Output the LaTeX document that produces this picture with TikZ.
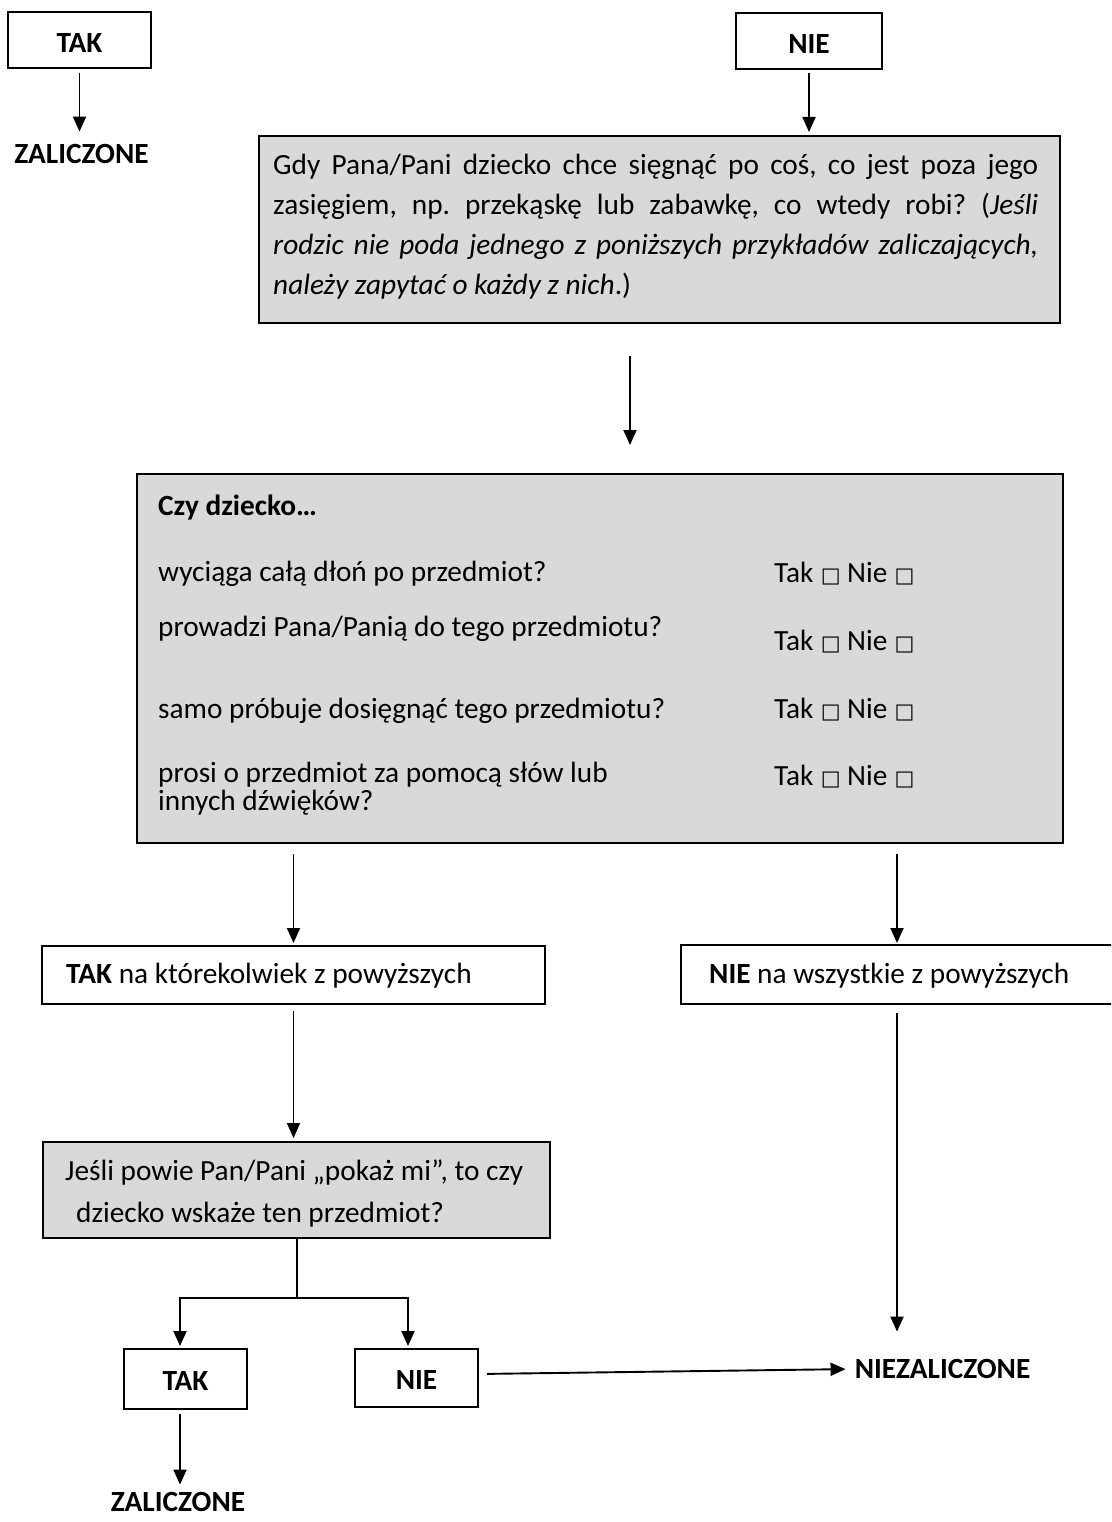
\documentclass[tikz,border=0pt]{standalone}
\usepackage{fontspec}
\setmainfont{Carlito}
\newfontfamily\dejavu{DejaVu Sans}
\usetikzlibrary{arrows.meta,calc}
\definecolor{boxgray}{HTML}{D9D9D9}
\frenchspacing
\newcommand{\sqbox}{{\dejavu\fontsize{21}{21}\selectfont □}}
\newcommand{\takNie}{Tak\hspace{0.25em}\sqbox\hspace{0.22em}Nie\hspace{0.25em}\sqbox}
\begin{document}
\begin{tikzpicture}[x=1pt,y=-1pt,
  every node/.style={font=\fontsize{29.3}{40}\selectfont},
  wbox/.style={draw=black,line width=1.6pt,fill=white,inner sep=0pt,outer sep=0pt},
  gbox/.style={wbox,fill=boxgray},
  sbox/.style={wbox,font=\fontsize{29.3}{40}\selectfont\bfseries,text height=22pt,text depth=0pt},
  lbl/.style={inner sep=0pt,font=\fontsize{29.3}{40}\selectfont\bfseries},
  txt/.style={inner sep=0pt,anchor=base west},
  arr/.style={line width=1.9pt,-{Triangle[width=13pt,length=15pt]}},
  ln/.style={line width=1.4pt}]
\clip (0,0) rectangle (1111,1522);
\fill[white] (0,0) rectangle (1111,1522);

% top row
\node[sbox,text height=25pt,minimum width=143pt,minimum height=56pt] (tak1) at (79.5,40) {TAK};
\node[sbox,text height=25pt,minimum width=146pt,minimum height=56pt] (nie1) at (809,41) {NIE};
\node[lbl] (zal1) at (81.5,154) {ZALICZONE};

% first question
\node[gbox,minimum width=801pt,minimum height=187pt] (b1) at (659.5,229.5) {};
\node[txt] (b1t) at (273,175) {\parbox[t]{765pt}{\hyphenpenalty=10000\exhyphenpenalty=10000\tolerance=10000
Gdy Pana/Pani dziecko chce sięgnąć po coś, co jest poza jego\linebreak
zasięgiem, np. przekąskę lub zabawkę, co wtedy robi? (\textit{Jeśli}\linebreak
\textit{rodzic nie poda jednego z poniższych przykładów zaliczających,}\linebreak
\textit{należy zapytać o każdy z nich}.)}};

% checklist
\node[gbox,minimum width=926pt,minimum height=369pt] (b2) at (600,658.5) {};
\node[txt] (r0) at (158,515) {\textbf{Czy dziecko…}};
\node[txt] (r1) at (158,581) {wyciąga całą dłoń po przedmiot?};
\node[txt] (r2) at (158,636) {prowadzi Pana/Panią do tego przedmiotu?};
\node[txt] (r3) at (158,718) {samo próbuje dosięgnąć tego przedmiotu?};
\node[txt] (r4) at (158,782) {\parbox[t]{560pt}{\fontsize{29.3}{28}\selectfont prosi o przedmiot za pomocą słów lub\\innych dźwięków?}};
\node[txt] (t1) at (774,582) {\takNie};
\node[txt] (t2) at (774,650) {\takNie};
\node[txt] (t3) at (774,718) {\takNie};
\node[txt] (t4) at (774,785) {\takNie};

% answers
\node[wbox,minimum width=503pt,minimum height=58pt] (takna) at (293.5,975) {};
\node[txt] (taknat) at (66,983) {\textbf{TAK} na którekolwiek z powyższych};
\node[wbox,minimum width=432pt,minimum height=59pt] (niena) at (897,974.5) {};
\node[txt] (nienat) at (709,983) {\textbf{NIE} na wszystkie z powyższych};

% second question
\node[gbox,minimum width=507pt,minimum height=96pt] (b3) at (296.5,1190) {};
\node[txt] (b3t) at (65,1180) {\parbox[t]{480pt}{\fontsize{29.3}{42}\selectfont Jeśli powie Pan/Pani „pokaż mi”, to czy\\\hspace*{11pt}dziecko wskaże ten przedmiot?}};

% bottom row
\node[sbox,minimum width=123pt,minimum height=60pt] (tak2) at (185.5,1379) {TAK};
\node[sbox,minimum width=123pt,minimum height=58pt] (nie2) at (416.5,1378) {NIE};
\node[lbl] (zal2) at (178,1502) {ZALICZONE};
\node[lbl] (niezal) at (942.5,1369) {NIEZALICZONE};
\coordinate (split) at (297,1298);

% connectors
\draw[arr,shorten <=5pt,shorten >=12.5pt] (tak1.south) -- (tak1.south |- zal1.north);
\draw[arr,shorten <=4pt,shorten >=4pt] (nie1.south) -- (nie1.south |- b1.north);
\draw[arr,shorten <=33pt,shorten >=29pt] ([xshift=-29.5pt]b1.south) -- ([xshift=-29.5pt]b1.south |- b2.north);
\draw[arr,shorten <=11pt,shorten >=3pt] (takna.north |- b2.south) -- (takna.north);
\draw[arr,shorten <=11pt,shorten >=2pt] (niena.north |- b2.south) -- (niena.north);
\draw[arr,shorten <=7pt,shorten >=4pt] (takna.south) -- (takna.south |- b3.north);
\draw[ln] (b3.south -| split) -- (split);
\draw[arr,shorten >=3pt] (split) -| ([xshift=-5.5pt]tak2.north);
\draw[arr,shorten >=3pt] (split) -| ([xshift=-8.5pt]nie2.north);
\draw[arr,shorten <=5pt,shorten >=7.5pt] ([xshift=-5.5pt]tak2.south) -- ([xshift=-5.5pt]tak2.south |- zal2.north);
\draw[arr,shorten <=9pt,shorten >=9pt] ([yshift=4pt]nie2.east) -- (niezal.west);
\draw[arr,shorten <=9pt,shorten >=27.5pt] (niena.south) -- (niena.south |- niezal.north);
\end{tikzpicture}
\end{document}
